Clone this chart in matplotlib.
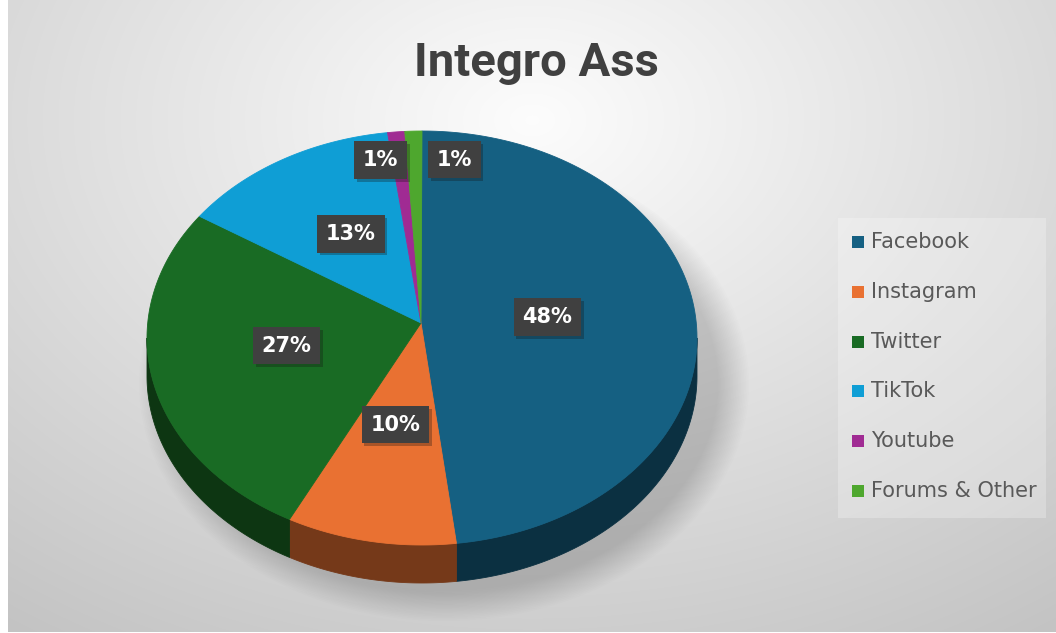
import numpy as np
import matplotlib
matplotlib.use("Agg")
import matplotlib.pyplot as plt
from matplotlib.patches import Polygon, Ellipse, Rectangle
from matplotlib import patheffects as pe
from matplotlib.colors import to_rgb

# data
categories = ["Facebook", "Instagram", "Twitter", "TikTok", "Youtube", "Forums & Other"]
values = [48, 10, 27, 13, 1, 1]
colors = ["#156082", "#E97132", "#196B24", "#0F9ED5", "#A02B93", "#4EA72E"]
title = "Integro Ass"

# label placement (fraction of radius, horizontal nudge in px)
label_r = [0.46, 0.5, 0.5, 0.5, 0.79, 0.79]
label_dx = [0, 0, 0, 0, -20, 40]

W, H = 1056, 633
fig = plt.figure(figsize=(W / 100, H / 100), dpi=100)
ax = fig.add_axes([0, 0, 1, 1])
ax.set_xlim(0, W)
ax.set_ylim(H, 0)
ax.axis("off")

# background gradient
yy, xx = np.mgrid[0:H, 0:W]
d = np.sqrt(((xx - 528) / 800.0) ** 2 + ((yy - 120) / 560.0) ** 2)
g = np.clip(0.99 - 0.2 * d, 0, 1)
ax.imshow(np.dstack([g, g, g]), extent=(8, W, H - 1, 0), zorder=0, aspect="auto")

# pie geometry
cx, cy = 422, 338
apx, apy = 421, 323
rx, ry = 275, 207
depth = 38


def arc(a, b, n=120, dy=0):
    t = np.radians(np.linspace(a, b, n))
    return np.column_stack([cx + rx * np.cos(t), cy - ry * np.sin(t) + dy])


# soft shadow, mostly to the lower right
for k in range(20):
    s = 30 - k * 1.6
    ax.add_patch(Ellipse((cx + 22, cy + depth + 8), 2 * (rx + s), 2 * (ry + s),
                         fc="#707070", ec="none", alpha=0.015, zorder=1))

total = float(sum(values))
starts = []
a = 90.0
for v in values:
    b = a - 360.0 * v / total
    starts.append((a, b))
    a = b

# side walls
for (a, b), c in zip(starts, colors):
    hi = min(a, 0.0)
    lo = max(b, -180.0)
    if hi > lo:
        top = arc(hi, lo)
        bot = arc(lo, hi, dy=depth)
        dark = tuple(x * 0.5 for x in to_rgb(c))
        ax.add_patch(Polygon(np.vstack([top, bot]), closed=True, fc=dark, ec=dark,
                             lw=0.6, zorder=2))

# top faces
for (a, b), c in zip(starts, colors):
    pts = np.vstack([[apx, apy], arc(a, b)])
    ax.add_patch(Polygon(pts, closed=True, fc=c, ec=c, lw=0.6, zorder=3))

# data labels
for (a, b), v, f, dx in zip(starts, values, label_r, label_dx):
    m = np.radians((a + b) / 2)
    x = apx + f * rx * np.cos(m) + dx
    y = apy - f * ry * np.sin(m)
    t = ax.text(x, y, "{:.0f}%".format(v), ha="center", va="center", color="white",
                fontsize=15, fontweight="bold", family="DejaVu Sans", zorder=5,
                bbox=dict(boxstyle="square,pad=0.42", fc="#404040", ec="none"))
    t.get_bbox_patch().set_path_effects([pe.SimplePatchShadow(offset=(2, -2), alpha=0.3),
                                         pe.Normal()])

# title
ax.text(536, 63, title, ha="center", va="center", fontsize=34, fontweight="bold",
        color="#404040", family=["Roboto", "DejaVu Sans"], zorder=5)

# legend
ax.add_patch(Rectangle((838, 218), 208, 300, fc="white", ec="none", alpha=0.25, zorder=4))
for i, (name, c) in enumerate(zip(categories, colors)):
    y = 242 + i * 49.8
    ax.add_patch(Rectangle((852, y - 6), 12, 12, fc=c, ec="none", zorder=5))
    ax.text(871, y, name, ha="left", va="center", fontsize=15, color="#595959",
            family="DejaVu Sans", zorder=5)

fig.savefig("out.png", dpi=100)
